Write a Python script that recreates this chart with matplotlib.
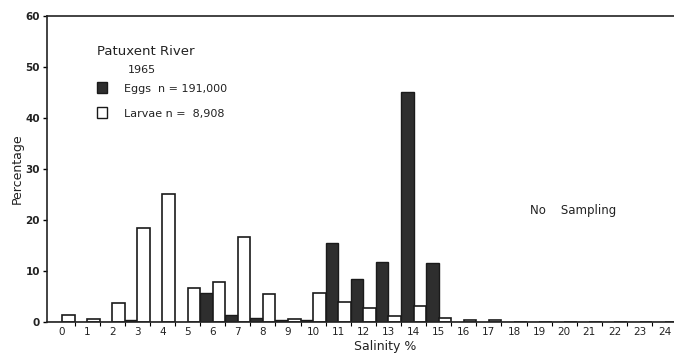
import numpy as np
import matplotlib.pyplot as plt

# salinity bins and percentages
salinity = list(range(25))
eggs = [0, 0, 0, 0.4, 0, 0, 5.7, 1.4, 0.7, 0.4, 0.3, 15.5, 8.4, 11.8, 45.1, 11.5,
        0, 0, 0, 0, 0, 0, 0, 0, 0]
larvae = [1.3, 0.6, 3.6, 18.4, 25.1, 6.7, 7.7, 16.6, 5.4, 0.6, 5.7, 3.9, 2.6, 1.2, 3.0, 0.7,
          0.3, 0.3, 0, 0, 0, 0, 0, 0, 0]

x = np.array(salinity)
w = 0.5

fig = plt.figure(figsize=(6.74, 3.53), dpi=100)
ax = fig.add_axes([0.0697, 0.0887, 0.935, 0.866])

ax.bar(x - w / 2, eggs, width=w, color='#2e2e2e', edgecolor='#1a1a1a', linewidth=1.0)
ax.bar(x + w / 2, larvae, width=w, color='white', edgecolor='#1a1a1a', linewidth=1.2)

ax.set_xlim(-0.6, 24.2)
ax.set_ylim(0, 60)
ax.set_xticks(x)
ax.set_xticklabels([str(s) for s in salinity], fontsize=7.5, color='#222222')
ax.set_xticks(x + 0.5, minor=True)
ax.tick_params(axis='x', which='major', length=0, pad=4)
ax.tick_params(axis='x', which='minor', length=3, width=0.8, direction='out')
ax.set_yticks([0, 10, 20, 30, 40, 50, 60])
ax.tick_params(axis='y', length=3, width=1, pad=2, labelsize=7.5, labelcolor='#222222')
for lb in ax.get_yticklabels():
    lb.set_fontweight('bold')

for s in ['left', 'bottom', 'top']:
    ax.spines[s].set_linewidth(1.2)
    ax.spines[s].set_color('#222222')
ax.spines['right'].set_visible(False)

ax.set_ylabel('Percentage', fontsize=9, color='#222222')
ax.yaxis.set_label_coords(-0.037, 0.5)
ax.set_xlabel('Salinity %', fontsize=9, color='#222222')
ax.xaxis.set_label_coords(0.537, -0.08)
ax.xaxis.label.set_va('center')

# legend drawn as text and squares
ax.text(0.079, 0.872, 'Patuxent River', transform=ax.transAxes, fontsize=9.5, color='#222222')
ax.text(0.129, 0.812, '1965', transform=ax.transAxes, fontsize=8, color='#222222')
ax.add_patch(plt.Rectangle((0.079, 0.748), 0.017, 0.036, transform=ax.transAxes,
                           facecolor='#2e2e2e', edgecolor='#1a1a1a', lw=1))
ax.text(0.122, 0.75, 'Eggs  n = 191,000', transform=ax.transAxes, fontsize=8, color='#222222')
ax.add_patch(plt.Rectangle((0.079, 0.666), 0.017, 0.036, transform=ax.transAxes,
                           facecolor='white', edgecolor='#1a1a1a', lw=1))
ax.text(0.122, 0.668, 'Larvae n =  8,908', transform=ax.transAxes, fontsize=8, color='#222222')

ax.text(0.767, 0.353, 'No    Sampling', transform=ax.transAxes, fontsize=8.5, color='#222222')

fig.savefig('out.png', dpi=100)
